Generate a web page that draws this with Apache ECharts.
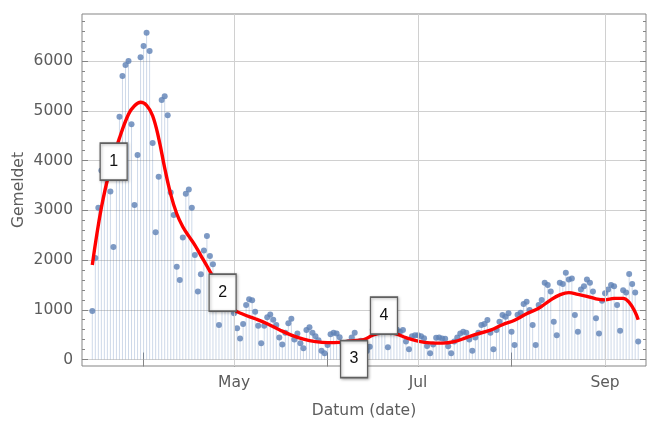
<!DOCTYPE html>
<html><head><meta charset="utf-8">
<script src="https://cdn.jsdelivr.net/npm/echarts@6/dist/echarts.min.js"></script>
<style>html,body{margin:0;padding:0;background:#fff}#c{width:648px;height:423px}</style>
</head><body><div id="c"></div>
<script>
// first reported day: 15 March 2020, one value per day
const startDate = [2020, 2, 15];
const reportedMar = [975, 2040, 3050, 3800, 4100, 4200, 3375, 2260, 4000, 4880, 5700, 5920, 6000, 4730, 3105, 4110, 6075];
const reportedApr = [6300, 6570, 6200, 4350, 2560, 3675, 5215, 5290, 4910, 3355, 2905, 1865, 1600, 2455, 3330, 3420, 3050, 2100, 1365, 1715, 2190, 2485, 2080, 1915, 1500, 695, 1250, 1550, 1450, 1300];
const reportedMay = [930, 630, 425, 715, 1095, 1210, 1190, 960, 680, 325, 680, 850, 905, 800, 695, 445, 300, 540, 730, 820, 405, 525, 325, 225, 595, 650, 540, 470, 390, 175, 125];
const reportedJun = [290, 510, 540, 525, 450, 300, 150, 350, 445, 540, 300, 380, 250, 170, 255, 600, 750, 1000, 800, 650, 245, 550, 650, 600, 560, 595, 360, 205, 470, 490];
const reportedJul = [490, 470, 430, 270, 125, 300, 440, 445, 425, 420, 265, 125, 360, 445, 525, 560, 540, 405, 175, 445, 540, 695, 715, 795, 540, 205, 595, 760, 895, 860, 930];
const reportedAug = [560, 290, 900, 940, 1115, 1160, 995, 695, 290, 1095, 1195, 1545, 1500, 1365, 760, 490, 1545, 1520, 1745, 1610, 1630, 895, 560, 1410, 1475, 1610, 1545, 1365, 830, 525, 1180];
const reportedSep = [1330, 1410, 1500, 1475, 1095, 580, 1395, 1345, 1720, 1520, 1345, 360];

// smoothed trend (red curve)
const trendDates = ['2020-03-15','2020-03-18','2020-03-21','2020-03-24','2020-03-27','2020-03-29','2020-03-31','2020-04-02','2020-04-04','2020-04-06','2020-04-08','2020-04-10','2020-04-12','2020-04-14','2020-04-16','2020-04-18','2020-04-20','2020-04-22','2020-04-24','2020-04-27','2020-04-29','2020-05-01','2020-05-04','2020-05-08','2020-05-12','2020-05-16','2020-05-20','2020-05-24','2020-05-28','2020-06-01','2020-06-05','2020-06-09','2020-06-13','2020-06-16','2020-06-19','2020-06-22','2020-06-24','2020-06-27','2020-07-01','2020-07-05','2020-07-09','2020-07-13','2020-07-17','2020-07-21','2020-07-25','2020-07-29','2020-08-02','2020-08-06','2020-08-10','2020-08-14','2020-08-17','2020-08-20','2020-08-23','2020-08-26','2020-08-29','2020-09-01','2020-09-04','2020-09-07','2020-09-09','2020-09-11','2020-09-12'];
const trendValues = [1900, 3050, 3850, 4450, 4930, 5100, 5170, 5110, 4900, 4450, 3850, 3320, 2930, 2670, 2480, 2300, 2090, 1880, 1660, 1330, 1150, 1000, 910, 820, 720, 600, 490, 410, 360, 340, 345, 375, 400, 490, 530, 530, 510, 440, 370, 335, 330, 360, 440, 520, 590, 700, 790, 920, 1030, 1200, 1300, 1345, 1310, 1270, 1220, 1200, 1230, 1230, 1150, 950, 800];

// axes
const xMin = '2020-03-11 14:00';
const xMax = '2020-09-14 14:00';
const monthTicks = ['2020-04-01','2020-05-01','2020-06-01','2020-07-01','2020-08-01','2020-09-01'];
const monthLabelTicks = ['2020-05-01','2020-07-01','2020-09-01'];
const monthNames = ['Jan','Feb','Mar','Apr','May','Jun','Jul','Aug','Sep','Oct','Nov','Dec'];
const yMin = -130, yMax = 6945;
const yTicks = [0, 1000, 2000, 3000, 4000, 5000, 6000];
const yMinorTicks = [200,400,600,800,1200,1400,1600,1800,2200,2400,2600,2800,3200,3400,3600,3800,4200,4400,4600,4800,5200,5400,5600,5800,6200,6400,6600,6800];

// numbered callout boxes: [anchor date, anchor value, text]
const callouts = [
  ['2020-03-22 02:00', 3980, '1'],
  ['2020-04-27 05:00', 1347, '2'],
  ['2020-06-09 19:00', 10, '3'],
  ['2020-06-19 17:00', 884, '4']
];

function toTime(s) {
  const m = s.match(/(\d+)-(\d+)-(\d+)(?:[ T](\d+):(\d+))?/);
  return new Date(+m[1], +m[2] - 1, +m[3], m[4] ? +m[4] : 0, m[5] ? +m[5] : 0).getTime();
}

const reported = [].concat(reportedMar, reportedApr, reportedMay, reportedJun, reportedJul, reportedAug, reportedSep);
const points = reported.map((v, i) => [new Date(startDate[0], startDate[1], startDate[2] + i).getTime(), v]);
const trend = trendDates.map((d, i) => [toTime(d), trendValues[i]]);

const frameColor = '#858585';
const labelColor = '#5c5c5c';
const gridColor = '#d0d0d0';
const font = '"DejaVu Sans", Verdana, sans-serif';
const fs = 15.5;

function xAx(pos, withLabels) {
  return {
    type: 'value', min: toTime(xMin), max: toTime(xMax), position: pos, scale: true,
    axisLine: { show: false },
    axisTick: { show: true, inside: true, length: 7, customValues: monthTicks.map(toTime), lineStyle: { color: frameColor } },
    axisLabel: withLabels ? {
      show: true, customValues: monthLabelTicks.map(toTime),
      formatter: v => monthNames[new Date(v).getMonth()],
      color: labelColor, fontSize: fs, fontFamily: font, margin: 9
    } : { show: false },
    splitLine: { show: false },
    name: withLabels ? 'Datum (date)' : '', nameLocation: 'middle', nameGap: 37, nameMoveOverlap: false,
    nameTextStyle: { color: labelColor, fontSize: fs, fontFamily: font }
  };
}
function yAx(pos, ticks, len, withLabels, split) {
  return {
    type: 'value', min: yMin, max: yMax, position: pos, splitNumber: 7,
    axisLine: { show: false },
    axisTick: { show: true, inside: true, length: len, customValues: ticks, lineStyle: { color: frameColor } },
    axisLabel: withLabels ? { show: true, customValues: yTicks, formatter: v => String(v), color: labelColor, fontSize: fs, fontFamily: font, margin: 9 } : { show: false },
    splitLine: { show: split, lineStyle: { color: gridColor, width: 1 } },
    name: withLabels ? 'Gemeldet' : '', nameLocation: 'middle', nameGap: 55, nameRotate: 90, nameMoveOverlap: false,
    nameTextStyle: { color: labelColor, fontSize: fs, fontFamily: font }
  };
}

const chart = echarts.init(document.getElementById('c'), null, { renderer: 'canvas' });
chart.setOption({
  animation: false,
  backgroundColor: '#fff',
  grid: { left: 82, right: 2, top: 14, bottom: 57, containLabel: false, outerBoundsMode: 'none', show: true, borderColor: frameColor, borderWidth: 1, backgroundColor: 'transparent' },
  xAxis: [xAx('bottom', true), xAx('top', false)],
  yAxis: [
    yAx('left', yTicks, 6, true, true),
    yAx('left', yMinorTicks, 3, false, false),
    yAx('right', yTicks, 6, false, false),
    yAx('right', yMinorTicks, 3, false, false)
  ],
  series: [
    {
      type: 'bar', name: 'stems', data: points, barWidth: 1, z: 1,
      itemStyle: { color: 'rgba(94,129,181,0.3)' },
      markLine: {
        silent: true, symbol: ['none', 'none'], label: { show: false },
        lineStyle: { color: gridColor, width: 1, type: 'solid' },
        data: monthLabelTicks.map(s => ({ xAxis: toTime(s) }))
      }
    },
    {
      type: 'scatter', name: 'Gemeldet', data: points, symbolSize: 6, z: 3,
      itemStyle: { color: '#5e81b5' }
    },
    {
      type: 'line', name: 'trend', data: trend, smooth: 0.4, showSymbol: false, z: 4,
      lineStyle: { color: '#ff0000', width: 3.4 }
    },
    {
      type: 'scatter', name: 'callouts', z: 10, clip: false, symbol: 'rect', symbolSize: [27, 37],
      data: callouts.map(c => ({ value: [toTime(c[0]), c[1]], text: c[2] })),
      itemStyle: { color: '#ffffff', borderColor: '#606060', borderWidth: 1.5, shadowBlur: 3, shadowColor: 'rgba(0,0,0,0.3)', shadowOffsetX: 1, shadowOffsetY: 1, opacity: 1 },
      label: { show: true, position: 'inside', formatter: p => p.data.text, color: '#111', fontSize: 16, fontFamily: '"Liberation Sans", Arial, sans-serif' }
    }
  ]
});
</script>
</body></html>
